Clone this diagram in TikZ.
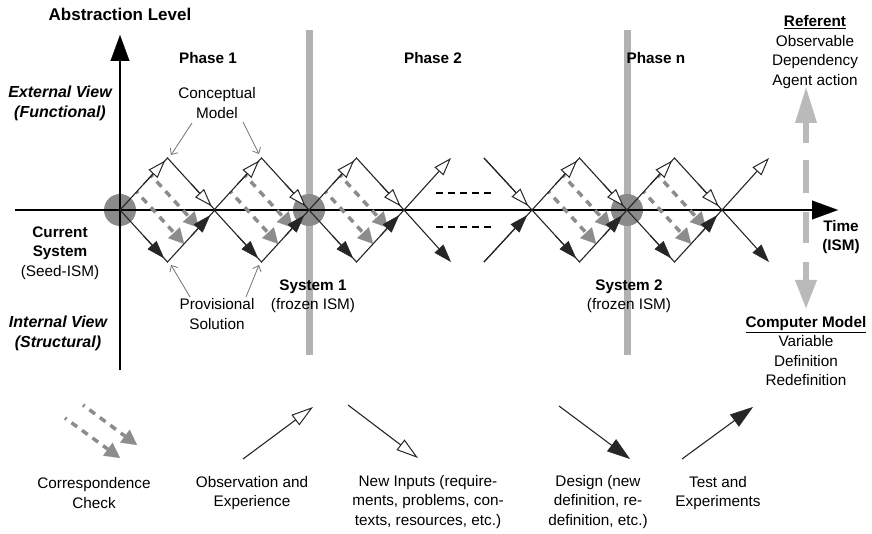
\documentclass[tikz,border=0pt]{standalone}
\usepackage{fontspec}
\setmainfont{Liberation Sans}
\usetikzlibrary{arrows.meta,calc}
\newcommand{\fsreg}{\fontsize{15.3}{19.5}\selectfont}
\begin{document}
\begin{tikzpicture}[x=1pt,y=-1pt,
  lab/.style={inner sep=0pt, align=center, font=\fsreg},
  blab/.style={inner sep=0pt, align=center, font=\fsreg\bfseries},
  viewlab/.style={inner sep=0pt, align=center, font=\fontsize{16}{20}\selectfont\bfseries\itshape},
  edge/.style={line width=1.1pt, black!85},
  openhead/.style={-{Triangle[length=18pt,width=12pt,fill=white,line width=1pt]}},
  blackhead/.style={-{Triangle[length=18pt,width=12pt,line width=0.5pt]}},
  lopenhead/.style={-{Triangle[length=22pt,width=13pt,fill=white,line width=1pt]}},
  lblackhead/.style={-{Triangle[length=23pt,width=15pt,line width=0.5pt]}},
  corr/.style={line width=3.5pt, black!45, dash pattern=on 7pt off 6pt, dash phase=5pt,
    -{Triangle[length=15pt,width=16pt,line width=0.1pt]}},
  axis/.style={line width=2.4pt, black, -{Triangle[length=26pt,width=19pt,line width=0.1pt]}},
  pointer/.style={line width=0.8pt, black!55, -{Straight Barb[length=5pt,width=9pt,line width=0.8pt]}},
  gapdash/.style={line width=2.6pt, black, dash pattern=on 7pt off 5pt},
  bar/.style={fill=black!30},
  circ/.style={fill=black!46},
  refarrow/.style={line width=6pt, black!27,
    dash pattern=on 20pt off 17pt on 33pt off 19pt on 31pt off 19pt on 30pt off 50pt,
    {Triangle[length=35pt,width=22pt,line width=0.1pt]}-{Triangle[length=28pt,width=22pt,line width=0.1pt]}}
]
\useasboundingbox (0,0) rectangle (872,534);

% frozen-system bars
\fill[bar] (306,30) rectangle (313,355);
\fill[bar] (624,30) rectangle (631,355);

% vertices of full diamonds
\foreach \x [count=\i] in {120,214,309,532,627}{
  \coordinate (L\i) at (\x,210);
  \coordinate (T\i) at (\x+47.5,158);
  \coordinate (R\i) at (\x+95,210);
  \coordinate (B\i) at (\x+47.5,262);
}

% system circles
\fill[circ] (L1) circle[radius=16pt];
\fill[circ] (L3) circle[radius=16pt];
\fill[circ] (L5) circle[radius=16pt];

% axes
\coordinate (hstart) at (15,210);
\coordinate (hend) at (838,210);
\coordinate (vstart) at (120,370);
\coordinate (vend) at (120,35);
\draw[axis] (hstart) -- (hend);
\draw[axis] (vstart) -- (vend);

% diamonds
\foreach \i in {1,...,5}{
  \draw[corr] ($(L\i)!0.35!(T\i)$) -- ($(B\i)!0.35!(R\i)$);
  \draw[corr] ($(L\i)!0.66!(T\i)$) -- ($(B\i)!0.66!(R\i)$);
  \draw[edge] (L\i) -- (T\i) -- (R\i) -- (B\i) -- cycle;
  \draw[edge,openhead] ($(L\i)!0.5!(T\i)$) -- ($(L\i)!0.95!(T\i)$);
  \draw[edge,openhead] ($(T\i)!0.5!(R\i)$) -- ($(T\i)!0.93!(R\i)$);
  \draw[edge,blackhead] ($(L\i)!0.5!(B\i)$) -- ($(L\i)!0.93!(B\i)$);
  \draw[edge,blackhead] ($(B\i)!0.5!(R\i)$) -- ($(B\i)!0.9!(R\i)$);
}

% open ends after phase 2 start and phase n end
\coordinate (A1t) at (451,158); \coordinate (A1b) at (451,262);
\coordinate (A2t) at (769,158); \coordinate (A2b) at (769,262);
\draw[edge,openhead] (R3) -- (A1t);
\draw[edge,blackhead] (R3) -- (A1b);
\draw[edge,openhead] (R5) -- (A2t);
\draw[edge,blackhead] (R5) -- (A2b);
\coordinate (C1t) at (484,158); \coordinate (C1b) at (484,262);
\draw[edge] (C1t) -- (L4);
\draw[edge] (C1b) -- (L4);
\draw[edge,openhead] (C1t) -- ($(C1t)!0.92!(L4)$);
\draw[edge,blackhead] (C1b) -- ($(C1b)!0.9!(L4)$);

% ellipsis dashes
\coordinate (d1a) at (436,193); \coordinate (d1b) at (491,193);
\coordinate (d2a) at (436,227); \coordinate (d2b) at (491,227);
\draw[gapdash] (d1a) -- (d1b);
\draw[gapdash] (d2a) -- (d2b);

% labels
\node[inner sep=0pt, font=\fontsize{17}{20}\selectfont\bfseries] (abs) at (120,14) {Abstraction Level};
\node[blab] (ph1) at (208,58) {Phase 1};
\node[blab] (ph2) at (433,58) {Phase 2};
\node[blab] (phn) at (656,58) {Phase n};
\node[viewlab] (ext) at (60,103) {External View\\(Functional)};
\node[viewlab] (int) at (58,333) {Internal View\\(Structural)};
\node[lab] (cm) at (217,103) {Conceptual\\Model};
\node[lab] (ps) at (217,314) {Provisional\\Solution};
\node[lab] (cur) at (60,253) {\textbf{Current}\\\textbf{System}\\(Seed-ISM)};
\node[lab] (s1) at (313,296) {\textbf{System 1}\\(frozen ISM)};
\node[lab] (s2) at (629,296) {\textbf{System 2}\\(frozen ISM)};
\node[blab] (time) at (841,237) {Time\\(ISM)};
\node[lab] (refl) at (815,52) {\textbf{\underline{Referent}}\\Observable\\Dependency\\Agent action};
\node[lab] (cml) at (806,351) {\textbf{\underline{Computer Model}}\\Variable\\Definition\\Redefinition};

% pointers
\coordinate (pc1) at (192,123); \coordinate (pc1e) at (171,155);
\coordinate (pc2) at (243,122); \coordinate (pc2e) at (259,154);
\coordinate (pp1) at (190,297); \coordinate (pp1e) at (171,265);
\coordinate (pp2) at (246,297); \coordinate (pp2e) at (259,265);
\draw[pointer] (pc1) -- (pc1e);
\draw[pointer] (pc2) -- (pc2e);
\draw[pointer] (pp1) -- (pp1e);
\draw[pointer] (pp2) -- (pp2e);

% referent / computer model double arrow
\coordinate (ru) at (806,88);
\coordinate (rd) at (806,308);
\draw[refarrow] (ru) -- (rd);

% legend
\coordinate (lc1a) at (83,405); \coordinate (lc1b) at (137,445);
\coordinate (lc2a) at (65,418); \coordinate (lc2b) at (120,458);
\draw[corr] (lc1a) -- (lc1b);
\draw[corr] (lc2a) -- (lc2b);
\coordinate (lo1) at (243,459); \coordinate (lo2) at (313,407);
\draw[edge,lopenhead] (lo1) -- (lo2);
\coordinate (ln1) at (348,405); \coordinate (ln2) at (418,458);
\draw[edge,lopenhead] (ln1) -- (ln2);
\coordinate (ld1) at (559,406); \coordinate (ld2) at (630,459);
\draw[edge,lblackhead] (ld1) -- (ld2);
\coordinate (lt1) at (682,459); \coordinate (lt2) at (753,407);
\draw[edge,lblackhead] (lt1) -- (lt2);

\node[lab] (tcorr) at (94,493) {Correspondence\\Check};
\node[lab] (tobs) at (252,493) {Observation and\\Experience};
\node[lab] (tnew) at (428,502) {New Inputs (require-\\ments, problems, con-\\texts, resources, etc.)};
\node[lab] (tdes) at (598,502) {Design (new\\definition, re-\\definition, etc.)};
\node[lab] (ttest) at (718,493) {Test and\\Experiments};
\end{tikzpicture}
\end{document}
